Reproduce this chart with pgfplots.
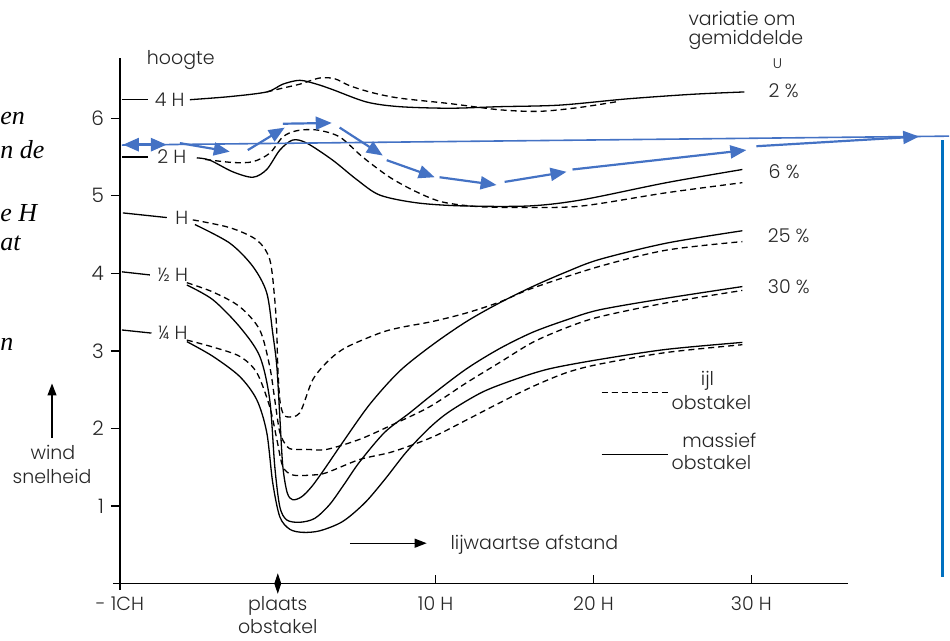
\documentclass[border=0pt]{standalone}
\usepackage{pgfplots}
\pgfplotsset{compat=1.18}
\usetikzlibrary{arrows.meta}
\usepackage{fontspec}
\setmainfont{Poppins}[UprightFont={* Light}]
\newfontfamily\serifit{Liberation Serif}
\definecolor{annblue}{RGB}{68,114,196}
\definecolor{vblue}{RGB}{0,112,192}
\newcommand{\lf}{\fontsize{9.5}{11.5}\selectfont}
\pgfplotsset{
  solidc/.style={black, line width=0.65pt, smooth, mark=none},
  dashc/.style={black, line width=0.65pt, smooth, mark=none, dash pattern=on 3pt off 2pt},
  barrow/.style={annblue, line width=1.1pt, mark=none, -{Triangle[length=8pt,width=6.5pt]}},
}
\begin{document}
\begin{tikzpicture}
\begin{axis}[
  x=7.9pt, y=38.8pt,
  xmin=-10, xmax=36.1, ymin=0, ymax=6.78,
  axis x line=bottom, axis y line=left,
  axis line style={-, line width=0.6pt},
  clip=false,
  xtick={-10,0,10,20,30},
  xticklabels={- 1CH, {plaats\\obstakel}, 10 H, 20 H, 30 H},
  xticklabel style={align=center, font=\lf, text=black!85, yshift=-3pt},
  ytick={1,2,3,4,5,6},
  yticklabel style={font=\fontsize{10}{12}\selectfont, text=black!85},
  /pgf/number format/assume math mode=true,
  xtick align=inside, ytick align=outside,
  major tick length=4.5pt,
  tick style={line width=0.6pt, black},
]
% bounding box of the whole picture
\path (axis cs:-17.595,-0.696) rectangle (axis cs:42.53,7.526);

% small axis overhangs
\addplot[black, line width=0.6pt, mark=none] coordinates {(-10.45,0)(-10,0)};
\addplot[black, line width=0.6pt, mark=none] coordinates {(-10,0)(-10,-0.08)};

% label lines
\addplot[solidc] coordinates {(-9.87,6.24)(-8.23,6.24)};
\addplot[solidc] coordinates {(-9.87,5.50)(-8.23,5.50)};
\addplot[solidc] coordinates {(-9.81,4.78)(-7.03,4.72)};
\addplot[solidc] coordinates {(-9.87,4.02)(-8.10,3.98)};
\addplot[solidc] coordinates {(-9.87,3.27)(-8.00,3.23)};

% 4H
\addplot[solidc] coordinates {(-5.57,6.24)(-3.04,6.28)(-0.70,6.34)(0.32,6.44)(1.39,6.49)(2.47,6.44)(3.48,6.37)(5.63,6.21)(7.72,6.15)(10.89,6.13)(14.05,6.15)(17.85,6.17)(22.09,6.25)(26.27,6.31)(29.56,6.34)};
\addplot[dashc] coordinates {(-0.70,6.34)(0.32,6.39)(1.39,6.44)(2.66,6.52)(3.61,6.51)(4.56,6.42)(6.0,6.33)(7.72,6.26)(10.89,6.19)(14.05,6.11)(16.58,6.09)(19.11,6.14)(21.65,6.22)};
% 2H
\addplot[solidc] coordinates {(-5.13,5.49)(-4.30,5.46)(-2.85,5.31)(-1.58,5.24)(-0.70,5.34)(0.13,5.59)(0.95,5.72)(1.84,5.68)(3.48,5.46)(5.0,5.21)(6.46,5.01)(8.80,4.91)(11.71,4.87)(15.95,4.87)(19.30,4.95)(24.62,5.17)(29.43,5.34)};
\addplot[dashc] coordinates {(-4.6,5.47)(-2.85,5.43)(-1.58,5.44)(-0.51,5.55)(0.32,5.76)(1.20,5.84)(2.47,5.85)(3.92,5.76)(5.38,5.50)(7.09,5.24)(8.80,5.05)(10.44,4.92)(12.78,4.86)(15.95,4.85)(19.30,4.87)(24.62,5.04)(29.43,5.17)};
% H
\addplot[solidc] coordinates {(-5.25,4.63)(-3.04,4.39)(-1.58,4.09)(-0.70,3.75)(-0.32,3.23)(-0.06,2.80)(0.13,2.15)(0.32,1.51)(0.6,1.17)(0.95,1.08)(1.52,1.12)(2.15,1.25)(2.97,1.48)(4.11,1.82)(5.82,2.31)(7.72,2.74)(9.81,3.08)(11.96,3.38)(14.05,3.62)(16.14,3.83)(18.29,4.02)(20.38,4.18)(24.62,4.39)(29.43,4.55)};
\addplot[dashc] coordinates {(-5.38,4.69)(-3.04,4.59)(-1.33,4.43)(-0.51,4.18)(-0.19,3.66)(-0.06,3.23)(0.0,2.80)(0.13,2.37)(0.32,2.20)(0.57,2.15)(1.39,2.20)(2.22,2.63)(3.29,2.89)(4.37,3.05)(6.46,3.23)(7.72,3.30)(9.81,3.38)(11.96,3.49)(14.05,3.63)(16.14,3.81)(20.38,4.09)(24.62,4.30)(29.43,4.41)};
% 1/2 H
\addplot[solidc] coordinates {(-5.76,3.85)(-4.11,3.66)(-2.41,3.31)(-1.14,2.93)(-0.51,2.37)(-0.19,1.51)(0.13,0.99)(0.57,0.82)(1.39,0.79)(2.34,0.84)(3.29,1.02)(4.24,1.29)(5.19,1.57)(6.77,1.95)(8.35,2.20)(9.81,2.44)(11.96,2.77)(14.05,3.03)(16.14,3.24)(18.29,3.40)(20.38,3.53)(24.62,3.68)(29.43,3.83)};
\addplot[dashc] coordinates {(-5.76,3.88)(-4.11,3.76)(-2.41,3.57)(-1.14,3.27)(-0.51,2.80)(-0.19,2.37)(0.13,1.95)(0.57,1.77)(0.95,1.73)(1.84,1.73)(3.10,1.73)(5.19,1.86)(7.28,2.05)(9.62,2.28)(11.96,2.59)(14.05,2.85)(16.14,3.11)(18.29,3.30)(20.38,3.44)(24.62,3.62)(29.43,3.78)};
% 1/4 H
\addplot[solidc] coordinates {(-5.76,3.12)(-4.11,2.93)(-2.41,2.67)(-1.33,2.37)(-0.70,1.95)(-0.32,1.30)(0.13,0.86)(0.76,0.70)(1.58,0.66)(2.66,0.68)(4.11,0.80)(5.51,1.04)(6.77,1.34)(8.16,1.70)(9.62,2.01)(10.89,2.22)(12.97,2.47)(15.13,2.64)(17.22,2.77)(20.38,2.89)(24.62,3.02)(29.43,3.11)};
\addplot[dashc] coordinates {(-5.76,3.14)(-4.11,3.05)(-2.41,2.93)(-1.33,2.72)(-0.51,2.28)(-0.06,1.86)(0.32,1.51)(0.95,1.40)(2.22,1.40)(3.10,1.43)(5.19,1.60)(7.28,1.70)(9.81,1.89)(11.96,2.11)(14.05,2.33)(16.14,2.54)(18.29,2.72)(20.38,2.83)(24.62,2.98)(29.43,3.08)};

% obstacle marker
\addplot[only marks, mark=diamond*, mark size=4.5pt, mark options={xscale=0.45, fill=black, draw=black}] coordinates {(0,0)};

% legend
\addplot[dashc] coordinates {(20.51,2.46)(24.68,2.46)};
\addplot[solidc] coordinates {(20.51,1.66)(24.68,1.66)};
\node[font=\lf, text=black!85] at (axis cs:27.22,2.62) {ijl};
\node[font=\lf, text=black!85] at (axis cs:27.47,2.33) {obstakel};
\node[font=\lf, text=black!85] at (axis cs:27.97,1.84) {massief};
\node[font=\lf, text=black!85] at (axis cs:27.47,1.56) {obstakel};

% lee arrow
\addplot[black, line width=0.6pt, mark=none, -{Triangle[length=6pt,width=4.5pt]}] coordinates {(4.56,0.52)(9.43,0.52)};
\node[font=\lf, text=black!85, anchor=west] at (axis cs:10.5,0.50) {lijwaartse afstand};

% wind arrow
\addplot[black, line width=0.6pt, mark=none, -{Triangle[length=6pt,width=4.5pt]}] coordinates {(-14.30,1.88)(-14.30,2.58)};
\node[font=\lf, text=black!85] at (axis cs:-14.24,1.69) {wind};
\node[font=\lf, text=black!85] at (axis cs:-14.30,1.38) {snelheid};

% height labels
\node[font=\lf, text=black!85] at (axis cs:-6.14,6.75) {hoogte};
\node[font=\lf, text=black!85] at (axis cs:-6.84,6.24) {4 H};
\node[font=\lf, text=black!85] at (axis cs:-6.71,5.50) {2 H};
\node[font=\lf, text=black!85] at (axis cs:-6.08,4.72) {H};
\node[font=\lf, text=black!85] at (axis cs:-6.65,3.98) {½ H};
\node[font=\lf, text=black!85] at (axis cs:-6.65,3.23) {¼ H};

% right labels
\node[font=\lf, text=black!85, anchor=west] at (axis cs:25.57,7.29) {variatie om};
\node[font=\lf, text=black!85, anchor=west] at (axis cs:25.57,7.01) {gemiddelde};
\node[font=\fontsize{7}{8}\selectfont, text=black!85] at (axis cs:31.65,6.71) {U};
\node[font=\lf, text=black!85, anchor=west] at (axis cs:30.65,6.35) {2 \%};
\node[font=\lf, text=black!85, anchor=west] at (axis cs:30.65,5.31) {6 \%};
\node[font=\lf, text=black!85, anchor=west] at (axis cs:30.6,4.48) {25 \%};
\node[font=\lf, text=black!85, anchor=west] at (axis cs:30.6,3.83) {30 \%};

% cut-off text at left
\node[font=\serifit\itshape\fontsize{13}{15}\selectfont, anchor=west, inner sep=0pt] at (axis cs:-17.595,6.0) {en};
\node[font=\serifit\itshape\fontsize{13}{15}\selectfont, anchor=west, inner sep=0pt] at (axis cs:-17.595,5.59) {n de};
\node[font=\serifit\itshape\fontsize{13}{15}\selectfont, anchor=west, inner sep=0pt] at (axis cs:-17.595,4.78) {e H};
\node[font=\serifit\itshape\fontsize{13}{15}\selectfont, anchor=west, inner sep=0pt] at (axis cs:-17.595,4.39) {at};
\node[font=\serifit\itshape\fontsize{13}{15}\selectfont, anchor=west, inner sep=0pt] at (axis cs:-17.595,3.08) {n};

% blue annotations
\addplot[annblue, line width=0.8pt, mark=none] coordinates {(-9.87,5.655)(42.53,5.77)};
\addplot[annblue, line width=1.5pt, mark=none, {Triangle[length=8pt,width=6.5pt]}-{Triangle[length=8pt,width=6.5pt]}] coordinates {(-9.81,5.66)(-7.03,5.66)};
\addplot[barrow] coordinates {(-6.20,5.68)(-3.04,5.57)};
\addplot[barrow] coordinates {(-1.90,5.59)(0.44,5.88)};
\addplot[barrow] coordinates {(0.32,5.93)(3.42,5.94)};
\addplot[barrow] coordinates {(3.92,5.88)(6.65,5.52)};
\addplot[barrow] coordinates {(6.90,5.46)(9.94,5.24)};
\addplot[barrow] coordinates {(10.25,5.24)(13.86,5.14)};
\addplot[barrow] coordinates {(14.37,5.18)(18.29,5.31)};
\addplot[barrow] coordinates {(18.67,5.34)(29.68,5.59)};
\addplot[barrow] coordinates {(30.32,5.64)(40.63,5.765)};
\addplot[vblue, line width=1.6pt, mark=none] coordinates {(42.09,5.72)(42.09,0.08)};
\end{axis}
\end{tikzpicture}
\end{document}
